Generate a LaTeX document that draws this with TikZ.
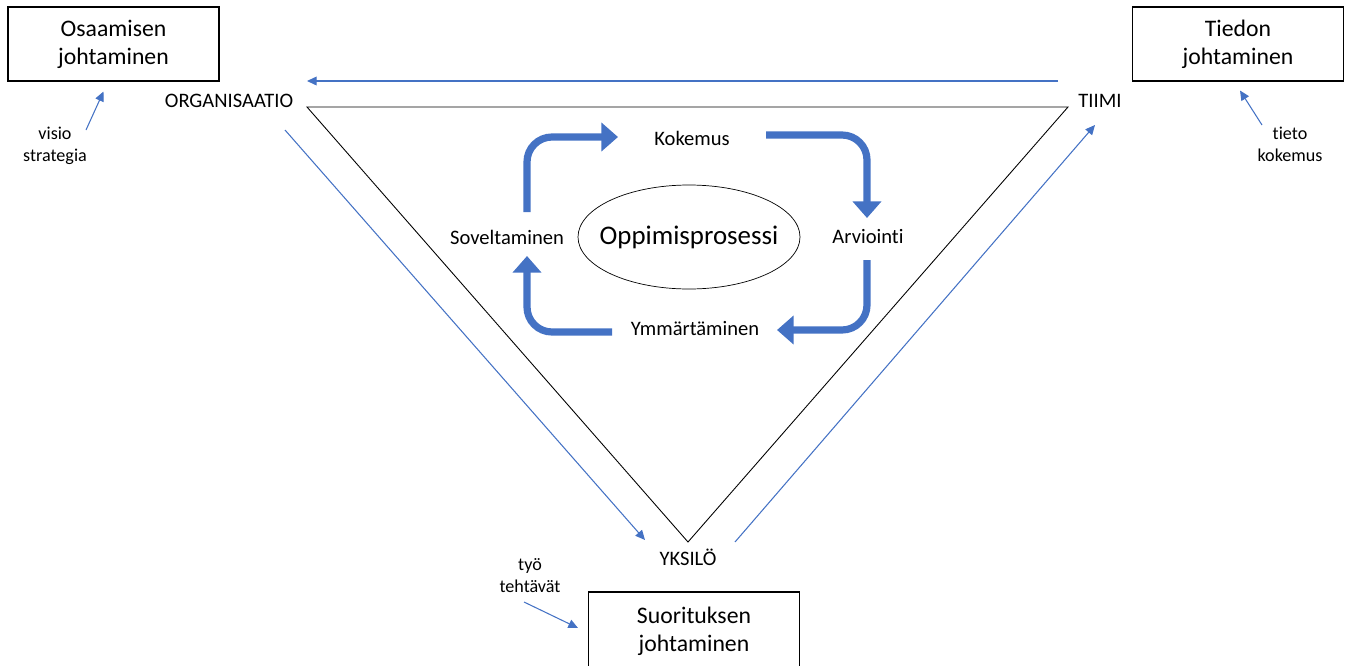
\documentclass[tikz,border=0pt]{standalone}
\usepackage{fontspec}
\setmainfont{Carlito}[Ligatures=NoCommon]
\usepackage{tikz}
\usetikzlibrary{arrows.meta, positioning, shapes.geometric}
\definecolor{sininen}{HTML}{4472C4}

\begin{document}
\begin{tikzpicture}[x=0.02cm, y=-0.02cm,
    laatikko/.style={draw, semithick, minimum width=4.22cm, minimum height=1.48cm,
        align=center, font=\fontsize{13.5}{16}\selectfont},
    taso/.style={font=\fontsize{11.7}{13}\selectfont},
    vaihe/.style={font=\fontsize{11.7}{13}\selectfont},
    pieni/.style={align=center, font=\fontsize{10.3}{12.5}\selectfont},
    ohut/.style={draw=sininen, semithick, -{Triangle[width=5pt, length=5.5pt]}},
    kierto/.style={draw=sininen, line width=4.1pt, rounded corners=0.5cm,
        -{Triangle[width=16pt, length=9.5pt]}}]
    \useasboundingbox (0,0) rectangle (1349,666);

    % Johtamisen laatikot
    \node[laatikko] (osaaminen) at (113.5,44) {Osaamisen\\johtaminen};
    \node[laatikko] (tieto) at (1238,44) {Tiedon\\johtaminen};
    \node[laatikko, minimum height=1.56cm] (suoritus) at (694,631) {Suorituksen\\johtaminen};

    % Kolmio
    \coordinate (kA) at (307,107);
    \coordinate (kB) at (1068,107);
    \coordinate (kC) at (688,542);
    \draw[line width=0.5pt] (kA) -- (kB) -- (kC) -- cycle;

    % Tasot
    \node[taso] (org) at (229,101) {ORGANISAATIO};
    \node[taso] (tiimi) at (1100,101) {TIIMI};
    \node[taso] (yksilo) at (688,557) {YKSILÖ};

    % Ohuet nuolet kolmion ympärillä
    \coordinate (y1) at (1058,81);
    \coordinate (y2) at (307,81);
    \coordinate (v1) at (285,130);
    \coordinate (v2) at (645,540);
    \coordinate (o1) at (735,542);
    \coordinate (o2) at (1095,125);
    \draw[ohut] (y1) -- (y2);
    \draw[ohut] (v1) -- (v2);
    \draw[ohut] (o1) -- (o2);

    % Pienet selitteet
    \node[pieni] (visio) at (55,146) {visio\\strategia};
    \node[pieni] (tk) at (1290,144) {tieto\\kokemus};
    \node[pieni] (tyo) at (530,576) {työ\\tehtävät};
    \draw[ohut] ([shift={(31,-16)}]visio.center) -- ([shift={(-10,10)}]osaaminen.south);
    \draw[ohut] ([shift={(-28,-19)}]tk.center) -- ([shift={(2,9)}]tieto.south);
    \draw[ohut] ([shift={(-6,26)}]tyo.center) -- ([shift={(-10,-3)}]suoritus.west);

    % Oppimisprosessi
    \node[font=\fontsize{15.3}{18}\selectfont] (oppi) at (689,237) {Oppimisprosessi};
    \draw (oppi.center) ellipse [x radius=111, y radius=52];
    \node[vaihe] (kok) at (692,138) {Kokemus};
    \node[vaihe] (arv) at (868,237) {Arviointi};
    \node[vaihe] (ymm) at (695,329) {Ymmärtäminen};
    \node[vaihe] (sov) at (507,237) {Soveltaminen};

    % Kierron nuolet
    \coordinate (s1) at (527,212);
    \coordinate (s2) at (618,137);
    \coordinate (k1) at (766,135);
    \coordinate (k2) at (867,218);
    \coordinate (a1) at (867,260);
    \coordinate (a2) at (777,330);
    \coordinate (m1) at (612,332);
    \coordinate (m2) at (527,256);
    \draw[kierto] (s1) |- (s2);
    \draw[kierto] (k1) -| (k2);
    \draw[kierto] (a1) |- (a2);
    \draw[kierto] (m1) -| (m2);
\end{tikzpicture}
\end{document}
